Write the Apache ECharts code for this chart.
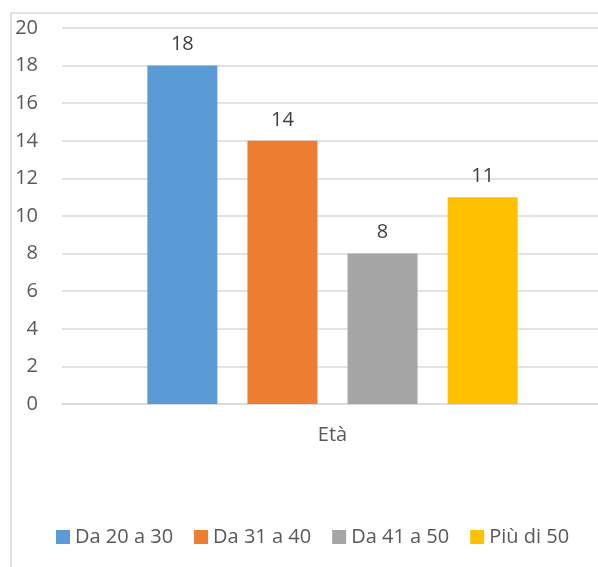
<!DOCTYPE html>
<html><head><meta charset="utf-8">
<script src="https://cdn.jsdelivr.net/npm/echarts@6/dist/echarts.min.js"></script>
<style>html,body{margin:0;padding:0;background:#fff;overflow:hidden;width:598px;height:567px}#c{width:603px;height:567px}</style>
</head><body><div id="c"></div>
<script>
const categories = ['Età'];
const seriesNames = ['Da 20 a 30', 'Da 31 a 40', 'Da 41 a 50', 'Più di 50'];
const seriesValues = [[18], [14], [8], [11]];
const colors = ['#5B9BD5', '#ED7D31', '#A5A5A5', '#FFC000'];
const yTicks = {min: 0, max: 20, interval: 2};

const chart = echarts.init(document.getElementById('c'));
const font = 'Open Sans, sans-serif';
chart.setOption({
  animation: false,
  color: colors,
  textStyle: {fontFamily: font},
  graphic: [{type: 'rect', shape: {x: 11, y: 13, width: 600, height: 570}, style: {fill: 'none', stroke: '#d9d9d9', lineWidth: 1.5}, silent: true}],
  grid: {left: 62, right: 0, top: 28, bottom: 163},
  legend: {
    bottom: 15, left: 51, itemWidth: 14, itemHeight: 14, itemGap: 21, icon: 'rect',
    textStyle: {fontSize: 20, color: '#595959', fontFamily: font},
    data: seriesNames
  },
  xAxis: {
    type: 'category', data: categories,
    axisLine: {lineStyle: {color: '#d9d9d9', width: 1.5}},
    axisTick: {show: false},
    axisLabel: {fontSize: 20, color: '#595959', margin: 21, fontFamily: font}
  },
  yAxis: {
    type: 'value', min: yTicks.min, max: yTicks.max, interval: yTicks.interval,
    axisLine: {show: false}, axisTick: {show: false},
    splitLine: {lineStyle: {color: '#d9d9d9', width: 1.5}},
    axisLabel: {fontSize: 20, color: '#595959', margin: 24, fontFamily: font}
  },
  series: seriesNames.map((n, i) => ({
    name: n, type: 'bar', data: seriesValues[i], barWidth: 70, barGap: '43%',
    label: {show: true, position: 'top', distance: 11, fontSize: 20, color: '#404040', fontFamily: font}
  }))
});
</script></body></html>
